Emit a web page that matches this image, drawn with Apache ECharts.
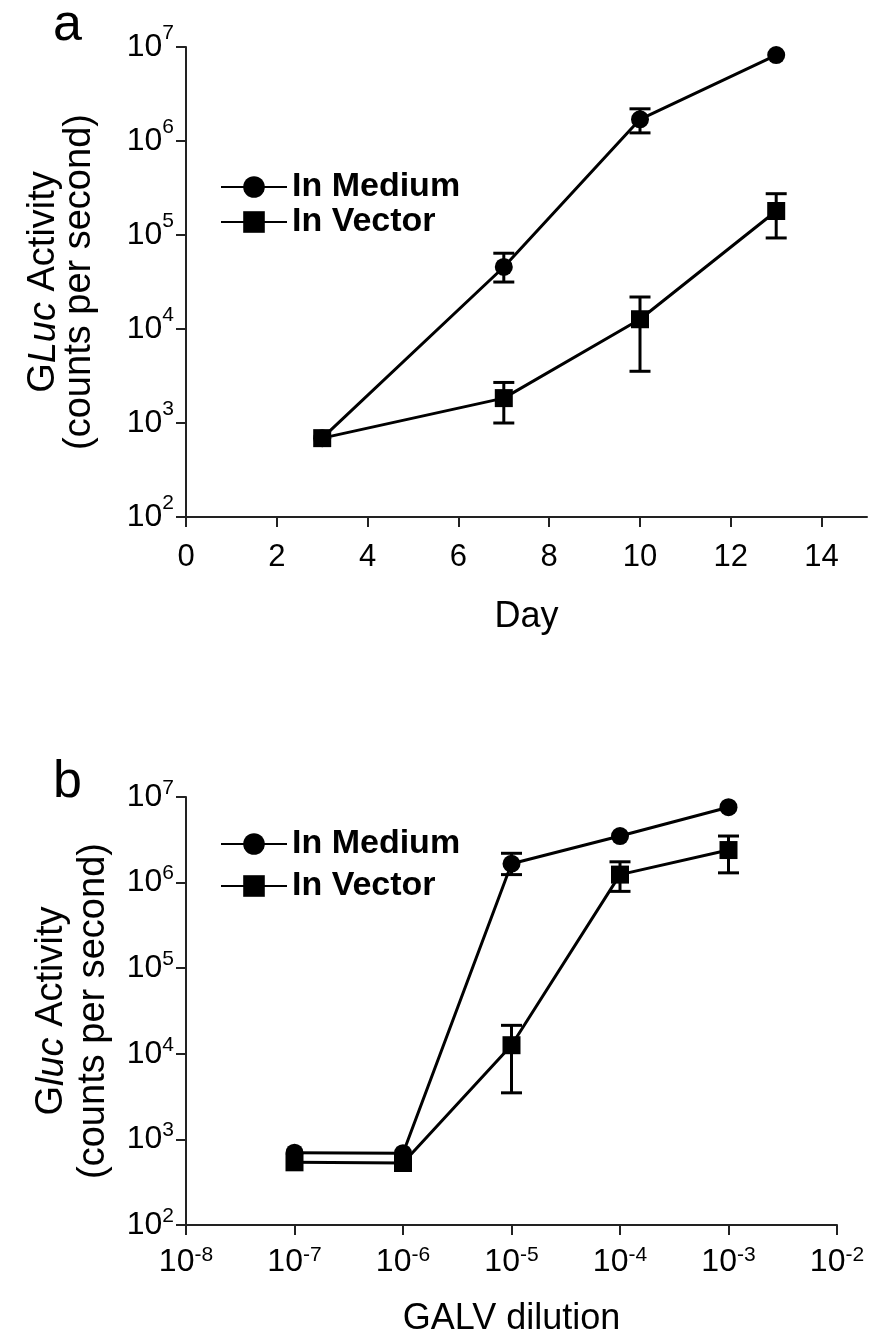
<!DOCTYPE html>
<html>
<head>
<meta charset="utf-8">
<script src="https://cdn.jsdelivr.net/npm/echarts@6/dist/echarts.min.js"></script>
<style>
  html, body { margin: 0; padding: 0; background: #fff; }
  #main { width: 871px; height: 1338px; }
</style>
</head>
<body>
<div id="main"></div>
<script>
// panel a : activity by day
const days = [3, 7, 10, 13]
const dayTicks = [0, 2, 4, 6, 8, 10, 12, 14]
const medA = [690, 45700, 1700000, 8200000]
const medALow = [null, 31600, 1220000, null]
const medAHigh = [null, 64000, 2200000, null]
const vecA = [690, 1840, 12700, 180000]
const vecALow = [null, 1000, 3550, 93000]
const vecAHigh = [null, 2700, 21900, 275000]

// panel b : activity by GALV dilution
const dilutions = [1e-7, 1e-6, 1e-5, 1e-4, 1e-3]
const medB = [700, 690, 1660000, 3500000, 7600000]
const medBLow = [null, null, 1240000, null, null]
const medBHigh = [null, null, 2200000, null, null]
const vecB = [540, 530, 12600, 1240000, 2400000]
const vecBLow = [null, null, 3500, 790000, 1300000]
const vecBHigh = [null, null, 21500, 1750000, 3500000]

const FONT = "'Liberation Sans', Arial, sans-serif"
const INK = '#000'
const AXIS = '#222'

function pairs(xs, ys) {
  return xs.map((x, i) => [x, ys[i]])
}
function errRows(xs, lo, hi) {
  const out = []
  xs.forEach((x, i) => {
    if (lo[i] != null) out.push([x, lo[i], hi[i]])
  })
  return out
}

function errBar(params, api) {
  const x = api.value(0)
  const lo = api.coord([x, api.value(1)])
  const hi = api.coord([x, api.value(2)])
  const w = 10.5
  const style = { stroke: INK, lineWidth: 3 }
  return {
    type: 'group',
    children: [
      { type: 'line', shape: { x1: lo[0], y1: lo[1], x2: hi[0], y2: hi[1] }, style },
      { type: 'line', shape: { x1: lo[0] - w, y1: lo[1], x2: lo[0] + w, y2: lo[1] }, style },
      { type: 'line', shape: { x1: hi[0] - w, y1: hi[1], x2: hi[0] + w, y2: hi[1] }, style }
    ]
  }
}

function powLabel(v) {
  return '{n|10}{s|' + Math.round(Math.log10(v)) + '}'
}
function powRich(raise) {
  return {
    n: { fontSize: 32, fontFamily: FONT, color: INK },
    s: { fontSize: 21, fontFamily: FONT, color: INK, padding: [0, 0, raise, 0] }
  }
}

const axisLine = { show: true, lineStyle: { color: AXIS, width: 2 } }
const axisTick = { show: true, length: 10, lineStyle: { color: AXIS, width: 2 } }

function yName(g, tail, lh) {
  return {
    name: '{r|G}{i|' + g + '}{r|' + tail + '}\n{r|(counts per second)}',
    nameTextStyle: {
      fontSize: 38,
      lineHeight: lh,
      fontFamily: FONT,
      color: INK,
      rich: {
        r: { fontSize: 38, lineHeight: lh, fontFamily: FONT, color: INK },
        i: { fontSize: 38, lineHeight: lh, fontFamily: FONT, color: INK, fontStyle: 'italic' }
      }
    }
  }
}

function lineSeries(name, sym, data, xi) {
  return {
    name,
    type: 'line',
    xAxisIndex: xi,
    yAxisIndex: xi,
    data,
    symbol: sym,
    symbolSize: 18,
    showAllSymbol: true,
    itemStyle: { color: INK },
    lineStyle: { color: INK, width: 3 },
    z: 3
  }
}
function errSeries(name, data, xi) {
  return {
    name,
    type: 'custom',
    xAxisIndex: xi,
    yAxisIndex: xi,
    renderItem: errBar,
    encode: { x: 0, y: [1, 2] },
    data,
    z: 4
  }
}

const legendBase = {
  data: ['In Medium', 'In Vector'],
  orient: 'vertical',
  left: 215,
  itemWidth: 66,
  itemHeight: 27,
  textStyle: { fontSize: 34, fontWeight: 'bold', fontFamily: FONT, color: INK }
}

const chart = echarts.init(document.getElementById('main'))
chart.setOption({
  animation: false,
  backgroundColor: '#fff',
  legend: [
    Object.assign({}, legendBase, { top: 165, itemGap: 1 }),
    Object.assign({}, legendBase, { top: 822, itemGap: 8 })
  ],
  graphic: [
    { type: 'text', left: 53, top: 0, style: { text: 'a', font: '52px ' + FONT, fill: INK } },
    { type: 'text', left: 53, top: 757, style: { text: 'b', font: '52px ' + FONT, fill: INK } }
  ],
  grid: [
    { left: 186, top: 47, width: 681, height: 470 },
    { left: 186, top: 797, width: 651, height: 433 }
  ],
  xAxis: [
    {
      gridIndex: 0,
      type: 'value',
      min: 0,
      max: 15,
      interval: 2,
      name: 'Day',
      nameLocation: 'middle',
      nameGap: 82,
      nameTextStyle: { fontSize: 36, fontFamily: FONT, color: INK },
      axisLine,
      axisTick: Object.assign({}, axisTick, { customValues: dayTicks }),
      axisLabel: { customValues: dayTicks, fontSize: 31, fontFamily: FONT, color: INK, margin: 25 },
      splitLine: { show: false }
    },
    {
      gridIndex: 1,
      type: 'log',
      logBase: 10,
      min: 1e-8,
      max: 1e-2,
      interval: 1,
      name: 'GALV dilution',
      nameLocation: 'middle',
      nameGap: 76,
      nameTextStyle: { fontSize: 36, fontFamily: FONT, color: INK },
      axisLine,
      axisTick,
      axisLabel: { formatter: powLabel, rich: powRich(14), margin: 20 },
      splitLine: { show: false }
    }
  ],
  yAxis: [
    Object.assign({
      gridIndex: 0,
      type: 'log',
      logBase: 10,
      min: 100,
      max: 1e7,
      interval: 1,
      nameLocation: 'middle',
      nameRotate: 90,
      nameGap: 88,
      axisLine,
      axisTick,
      axisLabel: { formatter: powLabel, rich: powRich(28), margin: 12 },
      splitLine: { show: false }
    }, yName('Luc', ' Activity', 36)),
    Object.assign({
      gridIndex: 1,
      type: 'log',
      logBase: 10,
      min: 100,
      max: 1e7,
      interval: 1,
      nameLocation: 'middle',
      nameRotate: 90,
      nameGap: 71,
      axisLine,
      axisTick,
      axisLabel: { formatter: powLabel, rich: powRich(18), margin: 12 },
      splitLine: { show: false }
    }, yName('luc', ' Activity', 42))
  ],
  series: [
    lineSeries('In Medium', 'circle', pairs(days, medA), 0),
    lineSeries('In Vector', 'rect', pairs(days, vecA), 0),
    errSeries('In Medium', errRows(days, medALow, medAHigh), 0),
    errSeries('In Vector', errRows(days, vecALow, vecAHigh), 0),
    lineSeries('In Medium', 'circle', pairs(dilutions, medB), 1),
    lineSeries('In Vector', 'rect', pairs(dilutions, vecB), 1),
    errSeries('In Medium', errRows(dilutions, medBLow, medBHigh), 1),
    errSeries('In Vector', errRows(dilutions, vecBLow, vecBHigh), 1)
  ]
})
</script>
</body>
</html>
